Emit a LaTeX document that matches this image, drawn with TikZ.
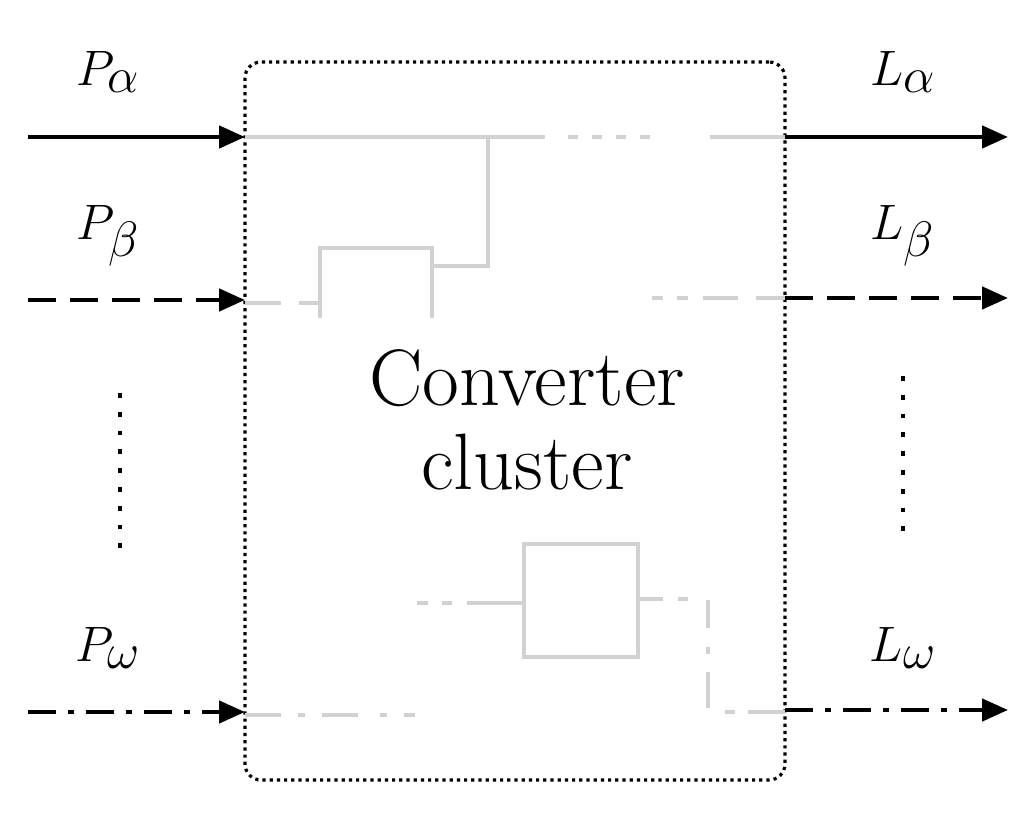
\documentclass[tikz,border=0pt]{standalone}
\usetikzlibrary{arrows.meta}
\begin{document}
\begin{tikzpicture}[x=0.5pt,y=-0.5pt,
 blk/.style={line width=2.3pt,-{Triangle[length=13pt,width=11pt]}},
 gr/.style={line width=2.2pt,draw=black!18},
 lab/.style={font=\fontsize{40}{46}\selectfont},
 dsh/.style={dash pattern=on 14pt off 7pt},
 dd/.style={dash pattern=on 14pt off 6pt on 3pt off 6pt}]
\useasboundingbox (0,0) rectangle (1033,822);
\node[draw,dotted,line width=1.6pt,rounded corners=8pt,minimum width=270pt,minimum height=359pt] (box) at (515,421) {};
\node[lab,align=center,inner sep=0pt] (t) at (527,420) {Converter\\[-4pt]cluster};
\coordinate (ia0) at (28,137); \coordinate (ia1) at (245,137);
\coordinate (ib0) at (28,300); \coordinate (ib1) at (245,300);
\coordinate (iw0) at (28,712); \coordinate (iw1) at (245,712);
\coordinate (oa0) at (785,137); \coordinate (oa1) at (1008,137);
\coordinate (ob0) at (785,298); \coordinate (ob1) at (1008,298);
\coordinate (ow0) at (785,710); \coordinate (ow1) at (1008,710);
\draw[blk] (ia0) -- (ia1);
\draw[blk,dsh] (ib0) -- (ib1);
\draw[blk,dd] (iw0) -- (iw1);
\draw[blk] (oa0) -- (oa1);
\draw[blk,dsh] (ob0) -- (ob1);
\draw[blk,dd] (ow0) -- (ow1);
\node[lab] (pa) at (108,72) {$P_\alpha$};
\node[lab] (pb) at (108,236) {$P_\beta$};
\node[lab] (pw) at (108,648) {$P_\omega$};
\node[lab] (la) at (903,72) {$L_\alpha$};
\node[lab] (lb) at (903,236) {$L_\beta$};
\node[lab] (lw) at (903,648) {$L_\omega$};
\draw[line width=2.4pt,dash pattern=on 2.4pt off 7pt] (120,393) -- (120,562);
\draw[line width=2.4pt,dash pattern=on 2.4pt off 7pt] (903,376) -- (903,545);
\draw[gr] (245,137) -- (545,137);
\draw[gr,dash pattern=on 5pt off 7pt] (568,137) -- (660,137);
\draw[gr] (710,137) -- (785,137);
\draw[gr] (488,137) -- (488,266) -- (432,266);
\draw[gr] (320,318) -- (320,248) -- (432,248) -- (432,318);
\draw[gr] (245,303) -- (281,303);
\draw[gr] (299,303) -- (320,303);
\draw[gr] (652,298) -- (663,298) (677,298) -- (688,298) (703,298) -- (738,298) (756,298) -- (785,298);
\draw[gr] (524,544) rectangle (638,657);
\draw[gr] (417,603) -- (428,603) (442,603) -- (452,603) (467,603) -- (524,603);
\draw[gr] (638,599) -- (663,599) (678,599) -- (688,599);
\draw[gr] (708,600) -- (708,628) (708,647) -- (708,654) (708,672) -- (708,708);
\draw[gr] (725,712) -- (735,712) (748,712) -- (785,712);
\draw[gr] (245,715) -- (281,715) (298,715) -- (305,715) (322,715) -- (358,715) (380,715) -- (387,715) (404,715) -- (415,715);
\end{tikzpicture}
\end{document}
